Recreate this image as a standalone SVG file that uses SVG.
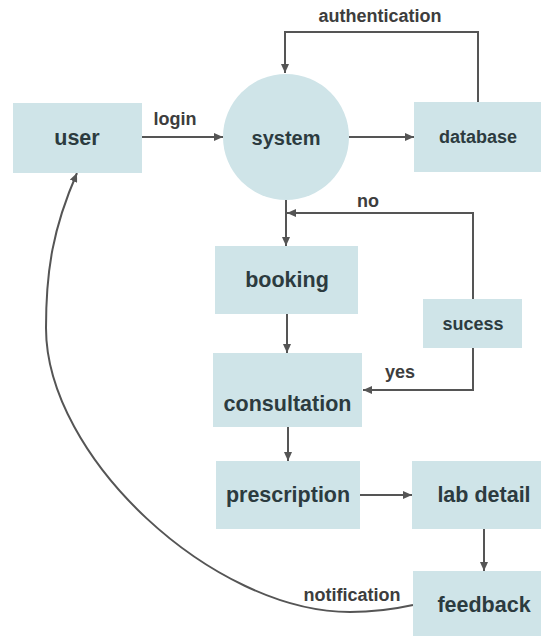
<svg xmlns="http://www.w3.org/2000/svg" width="542" height="636" viewBox="0 0 542 636">
<defs>
<style>
.box{fill:#cfe4e8;stroke:none}
.lbl{font-family:"Liberation Sans",Arial,sans-serif;font-weight:bold;font-size:21.5px;fill:#2c3b3f;text-anchor:middle}
.sm{font-size:18px}
.el{font-family:"Liberation Sans",Arial,sans-serif;font-weight:bold;font-size:18px;fill:#3d3d3d;text-anchor:middle}
.ln{fill:none;stroke:#555;stroke-width:2}
</style>
<marker id="ah" markerWidth="10" markerHeight="8" refX="9" refY="4" orient="auto" markerUnits="userSpaceOnUse">
<path d="M0,0 L9,4 L0,8 Z" fill="#555"/>
</marker>
</defs>
<rect width="542" height="636" fill="#ffffff"/>
<g id="connectors">
<path class="ln" d="M142,137 H223" marker-end="url(#ah)"/>
<path class="ln" d="M349,137 H414" marker-end="url(#ah)"/>
<path class="ln" d="M478,102 V32 H285 V73" marker-end="url(#ah)"/>
<path class="ln" d="M473,299 V213 H287" marker-end="url(#ah)"/>
<path class="ln" d="M286,200 V246" marker-end="url(#ah)"/>
<path class="ln" d="M287,314 V353" marker-end="url(#ah)"/>
<path class="ln" d="M473,348 V390 H363" marker-end="url(#ah)"/>
<path class="ln" d="M288,427 V461" marker-end="url(#ah)"/>
<path class="ln" d="M360,495 H412" marker-end="url(#ah)"/>
<path class="ln" d="M484,529 V571" marker-end="url(#ah)"/>
<path class="ln" d="M413,605 C395,609 372,612 350,612 C213,612 46,457 46,328 C46,270 53,228 77,173" marker-end="url(#ah)"/>
<text class="el" x="175" y="125">login</text>
<text class="el" x="380" y="22">authentication</text>
<text class="el" x="368" y="207">no</text>
<text class="el" x="400" y="378">yes</text>
<text class="el" x="352" y="601">notification</text>
</g>
<g id="user"><rect class="box" x="13" y="103" width="129" height="70"/><text class="lbl" x="77" y="145">user</text></g>
<g id="system"><circle class="box" cx="286" cy="137" r="63"/><text class="lbl" x="286" y="145" style="font-size:20px">system</text></g>
<g id="database"><rect class="box" x="414" y="102" width="127" height="70"/><text class="lbl sm" x="478" y="143">database</text></g>
<g id="booking"><rect class="box" x="215" y="246" width="143" height="68"/><text class="lbl" x="287" y="287">booking</text></g>
<g id="sucess"><rect class="box" x="423" y="299" width="99" height="49"/><text class="lbl sm" x="473" y="330">sucess</text></g>
<g id="consultation"><rect class="box" x="213" y="353" width="149" height="74"/><text class="lbl" x="287.5" y="411">consultation</text></g>
<g id="prescription"><rect class="box" x="216" y="461" width="144" height="68"/><text class="lbl" x="288" y="502">prescription</text></g>
<g id="lab-detail"><rect class="box" x="412" y="461" width="129" height="68"/><text class="lbl" x="484" y="502">lab detail</text></g>
<g id="feedback"><rect class="box" x="413" y="571" width="128" height="65"/><text class="lbl" x="484" y="612">feedback</text></g>
</svg>
